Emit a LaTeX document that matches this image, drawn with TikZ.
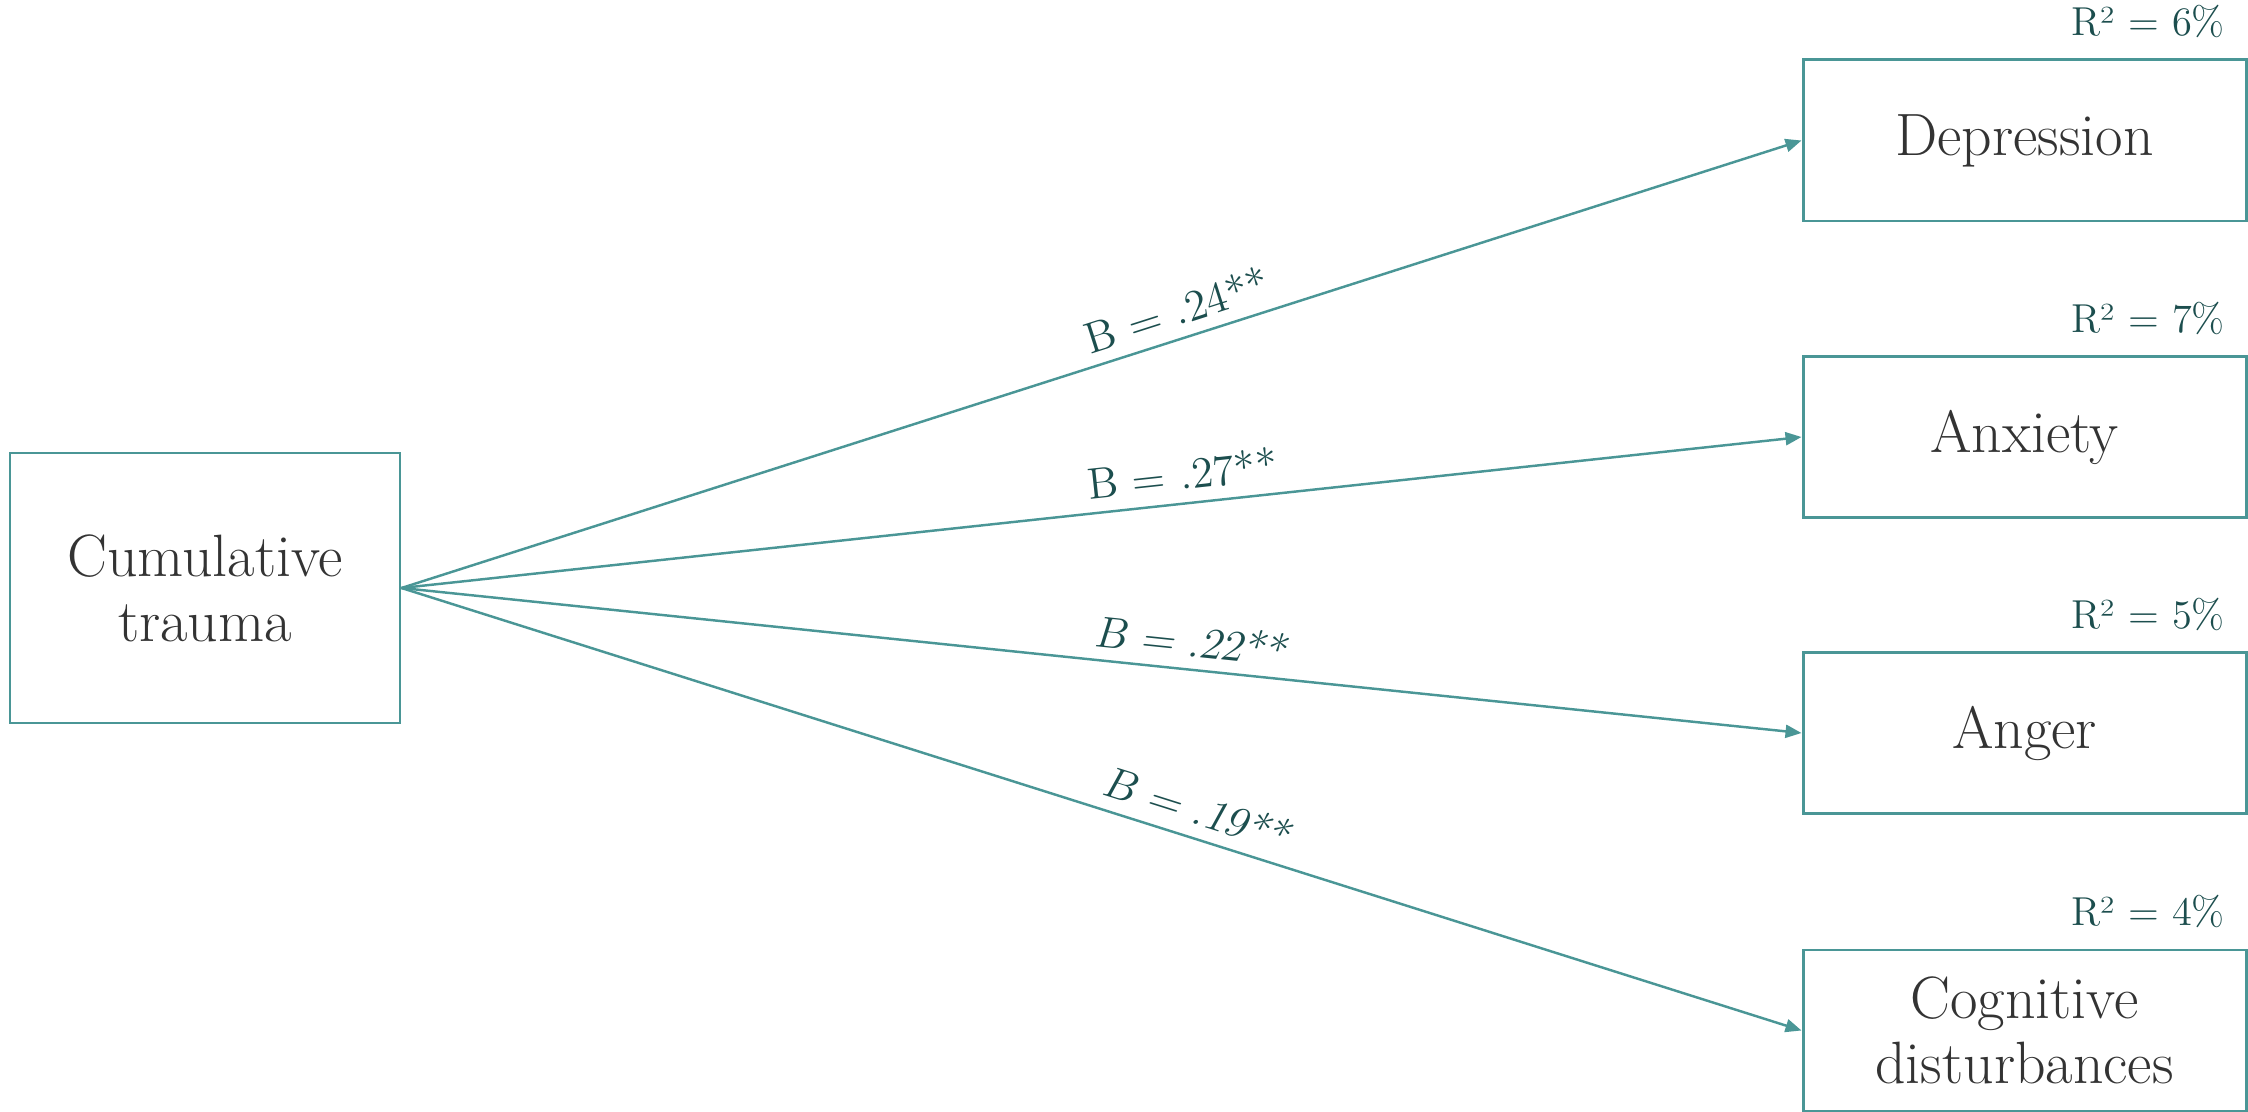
\documentclass[tikz,border=0pt]{standalone}
\usepackage{fontspec}
\usetikzlibrary{arrows.meta, positioning}
\definecolor{traumaTeal}{RGB}{74,150,150}
\definecolor{traumaInk}{RGB}{51,51,51}
\definecolor{traumaDeep}{RGB}{28,78,78}

\begin{document}
\begin{tikzpicture}[
      box/.style={draw=traumaTeal, line width=0.85pt, text=traumaInk, font=\fontsize{17}{18.5}\selectfont, align=center, inner sep=0pt},
      outcome/.style={box, minimum width=4.43cm, minimum height=1.61cm},
      coef/.style={font=\fontsize{12.5}{15}\selectfont, text=traumaDeep, sloped, above, pos=0.56},
      rsq/.style={font=\fontsize{11.5}{14}\selectfont, text=traumaDeep, inner sep=0pt},
      link/.style={-{Triangle[length=0.16cm, width=0.13cm]}, line width=0.7pt, draw=traumaTeal}
    ]
    \useasboundingbox (0,0) rectangle (22.48,-11.12);

    \node[box, minimum width=3.9cm, minimum height=2.7cm] (ct) at (2.05,-5.88) {Cumulative\\trauma};

    \node[outcome] (dep) at (20.245,-1.405) {Depression};
    \node[outcome] (anx) at (20.245,-4.37) {Anxiety};
    \node[outcome] (ang) at (20.245,-7.33) {Anger};
    \node[outcome] (cog) at (20.245,-10.305) {Cognitive\\disturbances};

    \foreach \n/\r in {dep/6,anx/7,ang/5,cog/4} {
      \node[rsq, above left=0.2cm and 0.22cm of \n.north east] (\n-r) {R² = \r\%};
    }

    \draw[link] (ct.east) -- node[coef] (b-dep) {B = .24**} (dep.west);
    \draw[link] (ct.east) -- node[coef] (b-anx) {B = .27**} (anx.west);
    \draw[link] (ct.east) -- node[coef, xslant=0.2] (b-ang) {B = .22**} (ang.west);
    \draw[link] (ct.east) -- node[coef, xslant=0.2] (b-cog) {B = .19**} (cog.west);
  \end{tikzpicture}
\end{document}
